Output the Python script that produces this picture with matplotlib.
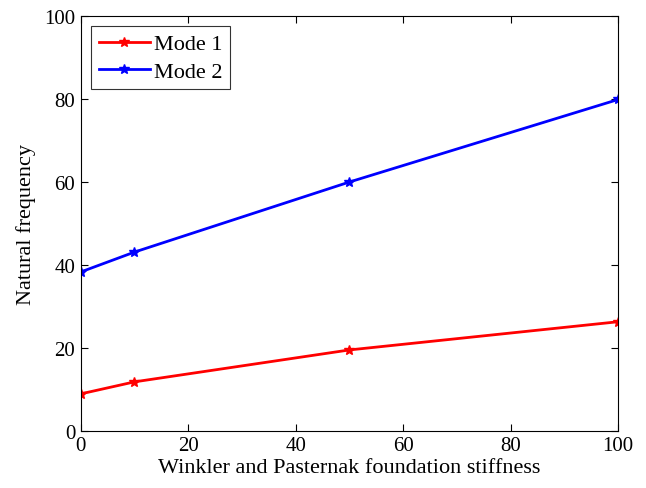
import matplotlib
matplotlib.use('Agg')
import matplotlib.pyplot as plt

stiffness = [0, 10, 50, 100]
mode1 = [8.9, 11.8, 19.5, 26.3]
mode2 = [38.3, 43.1, 60.0, 79.9]

plt.rcParams['font.family'] = ['Liberation Serif', 'DejaVu Serif']

fig = plt.figure(figsize=(6.46, 4.89), dpi=100)
ax = fig.add_axes([0.125, 0.117, 0.832, 0.848])

ax.plot(stiffness, mode1, '-*', color='red', lw=2, ms=7, label='Mode 1')
ax.plot(stiffness, mode2, '-*', color='blue', lw=2, ms=7, label='Mode 2')

ax.set_xlim(0, 100)
ax.set_ylim(0, 100)
ax.set_xticks(range(0, 101, 20))
ax.set_yticks(range(0, 101, 20))
ax.tick_params(direction='in', top=True, right=True, labelsize=15, length=5, pad=4)
for s in ax.spines.values():
    s.set_linewidth(0.8)

ax.set_xlabel('Winkler and Pasternak foundation stiffness', fontsize=16, labelpad=2)
ax.set_ylabel('Natural frequency', fontsize=16, labelpad=6)

leg = ax.legend(loc='upper left', fontsize=16, fancybox=False, edgecolor='black',
                borderaxespad=0.45, handlelength=2.3, handletextpad=0.2,
                borderpad=0.35, labelspacing=0.3)
leg.get_frame().set_linewidth(0.8)

fig.savefig('out.png', dpi=100)
